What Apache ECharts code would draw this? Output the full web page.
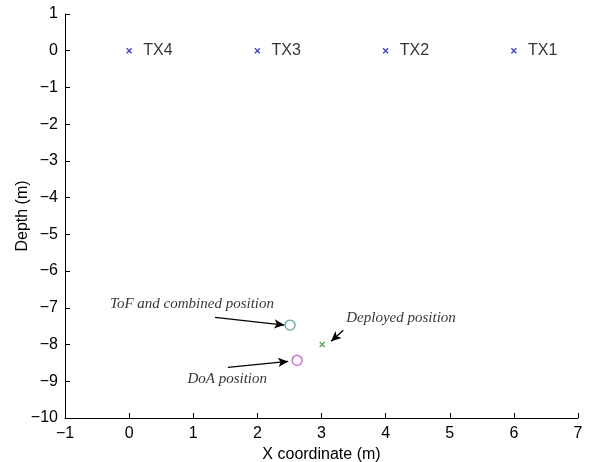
<!DOCTYPE html>
<html>
<head>
<meta charset="utf-8">
<script src="https://cdn.jsdelivr.net/npm/echarts@6/dist/echarts.min.js"></script>
<style>
  html, body { margin: 0; padding: 0; background: #fff; }
  #chart { width: 592px; height: 462px; }
</style>
</head>
<body>
<div id="chart"></div>
<script>
// transmitters
const txNames = ["TX4", "TX3", "TX2", "TX1"];
const txX = [0, 2, 4, 6];
const txY = [0, 0, 0, 0];

// estimated and deployed positions
const tofPos = [2.51, -7.47];
const doaPos = [2.62, -8.43];
const deployedPos = [3.01, -8.0];

// annotation texts (anchor in data units) and arrows [from, to]
const noteTexts = ["ToF and combined position", "Deployed position", "DoA position"];
const noteAnchors = [[0.98, -6.9], [4.24, -7.28], [1.53, -8.95]];
const noteArrows = [
    [[1.34, -7.26], [2.42, -7.47]],
    [[3.34, -7.61], [3.15, -7.91]],
    [[1.54, -8.62], [2.48, -8.46]]
];

const crossPath = "path://M0,0L10,10M10,0L0,10";
const minus = v => String(v).replace("-", "\u2212");

const chart = echarts.init(document.getElementById("chart"));

const option = {
    backgroundColor: "#fff",
    animation: false,
    textStyle: { fontFamily: "Liberation Sans, Arial, sans-serif" },
    grid: { left: 65, right: 14, top: 14, bottom: 44, containLabel: false, outerBoundsMode: "none" },
    xAxis: {
        type: "value",
        min: -1, max: 7, interval: 1,
        name: "X coordinate (m)",
        nameLocation: "middle",
        nameGap: 28,
        nameTextStyle: { color: "#000", fontSize: 16 },
        axisLine: { onZero: false, lineStyle: { color: "#000", width: 1 } },
        axisTick: { inside: true, length: 5, lineStyle: { color: "#000" } },
        axisLabel: { color: "#000", fontSize: 16, margin: 8, formatter: minus },
        splitLine: { show: false }
    },
    yAxis: {
        type: "value",
        min: -10, max: 1, interval: 1,
        name: "Depth (m)",
        nameLocation: "middle",
        nameGap: 34,
        nameMoveOverlap: false,
        nameTextStyle: { color: "#000", fontSize: 16 },
        axisLine: { onZero: false, lineStyle: { color: "#000", width: 1 } },
        axisTick: { inside: true, length: 5, lineStyle: { color: "#000" } },
        axisLabel: { color: "#000", fontSize: 16, margin: 7, formatter: minus },
        splitLine: { show: false }
    },
    series: [
        {
            name: "TX",
            type: "scatter",
            symbol: crossPath,
            symbolSize: 5,
            itemStyle: { color: "transparent", borderColor: "#0000ff", borderWidth: 1.2 },
            label: {
                show: true, position: "right", distance: 11,
                color: "#000", fontSize: 16,
                formatter: p => txNames[p.dataIndex]
            },
            data: txX.map((x, i) => [x, txY[i]])
        },
        {
            name: "ToF",
            type: "scatter",
            symbol: "circle",
            symbolSize: 10,
            itemStyle: { color: "transparent", borderColor: "#2a9696", borderWidth: 1.3 },
            data: [tofPos]
        },
        {
            name: "DoA",
            type: "scatter",
            symbol: "circle",
            symbolSize: 10,
            itemStyle: { color: "transparent", borderColor: "#dd22dd", borderWidth: 1.3 },
            data: [doaPos]
        },
        {
            name: "Deployed",
            type: "scatter",
            symbol: crossPath,
            symbolSize: 5,
            itemStyle: { color: "transparent", borderColor: "#1a961a", borderWidth: 1.2 },
            data: [deployedPos]
        },
        {
            name: "notes",
            type: "scatter",
            symbolSize: 1,
            itemStyle: { color: "transparent" },
            label: {
                show: true, position: "inside",
                color: "#000", fontSize: 15, fontStyle: "italic",
                fontFamily: "Liberation Serif, Times New Roman, serif",
                formatter: p => noteTexts[p.dataIndex]
            },
            markLine: {
                silent: true,
                symbol: ["none", "arrow"],
                symbolSize: [7, 10],
                lineStyle: { color: "#000", width: 1.3, type: "solid" },
                label: { show: false },
                data: noteArrows.map(a => [{ coord: a[0] }, { coord: a[1] }])
            },
            data: noteAnchors
        }
    ]
};

chart.setOption(option);
window.addEventListener("resize", () => chart.resize());
</script>
</body>
</html>
